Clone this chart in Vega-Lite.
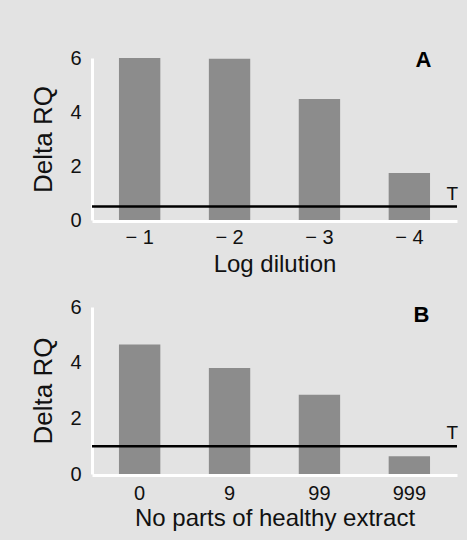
{
  "$schema": "https://vega.github.io/schema/vega-lite/v6.json",
  "background": "#e3e3e3",
  "padding": {"left": 30, "top": 48, "right": 8, "bottom": 10},
  "spacing": 21,
  "config": {
    "view": {"stroke": null},
    "font": "Liberation Sans",
    "axis": {
      "domainColor": "#ffffff",
      "domainWidth": 3,
      "ticks": false,
      "grid": false,
      "labelFont": "Liberation Sans",
      "labelFontSize": 20,
      "labelColor": "#111111",
      "titleFont": "Liberation Sans",
      "titleFontSize": 24,
      "titleFontWeight": "normal",
      "titleColor": "#111111"
    }
  },
  "datasets": {
    "a": [
      {"cat": "− 1", "val": 6.0},
      {"cat": "− 2", "val": 5.97},
      {"cat": "− 3", "val": 4.48},
      {"cat": "− 4", "val": 1.74}
    ],
    "b": [
      {"cat": "0", "val": 4.65},
      {"cat": "9", "val": 3.81},
      {"cat": "99", "val": 2.85},
      {"cat": "999", "val": 0.64}
    ],
    "annA": [
      {"cat": "− 4", "val": 0.5, "label": "T"}
    ],
    "panA": [
      {"cat": "− 4", "val": 6, "label": "A"}
    ],
    "annB": [
      {"cat": "999", "val": 1.0, "label": "T"}
    ],
    "panB": [
      {"cat": "999", "val": 6, "label": "B"}
    ]
  },
  "vconcat": [
    {
      "width": 365,
      "height": 162,
      "layer": [
        {
          "data": {"name": "a"},
          "mark": {"type": "bar", "color": "#8c8c8c"},
          "encoding": {
            "x": {"field": "cat", "type": "nominal", "sort": null,
              "scale": {"paddingInner": 0.54, "paddingOuter": 0.3},
              "axis": {"title": "Log dilution", "labelAngle": 0, "labelPadding": 6, "titlePadding": 5, "offset": 1}},
            "y": {"field": "val", "type": "quantitative",
              "scale": {"domain": [0, 6]},
              "axis": {"title": "Delta RQ", "titleFontSize": 26, "values": [0, 2, 4, 6], "labelPadding": 11, "titlePadding": 13}}
          }
        },
        {
          "data": {"name": "annA"},
          "mark": {"type": "rule", "color": "#000000", "strokeWidth": 2.5},
          "encoding": {"y": {"field": "val", "type": "quantitative"}}
        },
        {
          "data": {"name": "annA"},
          "mark": {"type": "text", "fontSize": 19, "dx": 43, "dy": -3, "baseline": "bottom", "color": "#111111"},
          "encoding": {
            "x": {"field": "cat", "type": "nominal", "sort": null},
            "y": {"field": "val", "type": "quantitative"},
            "text": {"field": "label"}
          }
        },
        {
          "data": {"name": "panA"},
          "mark": {"type": "text", "fontSize": 22, "fontWeight": "bold", "dx": 14, "dy": 2, "baseline": "middle", "color": "#000000"},
          "encoding": {
            "x": {"field": "cat", "type": "nominal", "sort": null},
            "y": {"field": "val", "type": "quantitative"},
            "text": {"field": "label"}
          }
        }
      ]
    },
    {
      "width": 365,
      "height": 167,
      "layer": [
        {
          "data": {"name": "b"},
          "mark": {"type": "bar", "color": "#8c8c8c"},
          "encoding": {
            "x": {"field": "cat", "type": "nominal", "sort": null,
              "scale": {"paddingInner": 0.54, "paddingOuter": 0.3},
              "axis": {"title": "No parts of healthy extract", "labelAngle": 0, "labelPadding": 8, "titlePadding": 3, "offset": 1}},
            "y": {"field": "val", "type": "quantitative",
              "scale": {"domain": [0, 6]},
              "axis": {"title": "Delta RQ", "titleFontSize": 26, "values": [0, 2, 4, 6], "labelPadding": 11, "titlePadding": 13}}
          }
        },
        {
          "data": {"name": "annB"},
          "mark": {"type": "rule", "color": "#000000", "strokeWidth": 2.5},
          "encoding": {"y": {"field": "val", "type": "quantitative"}}
        },
        {
          "data": {"name": "annB"},
          "mark": {"type": "text", "fontSize": 19, "dx": 43, "dy": -3, "baseline": "bottom", "color": "#111111"},
          "encoding": {
            "x": {"field": "cat", "type": "nominal", "sort": null},
            "y": {"field": "val", "type": "quantitative"},
            "text": {"field": "label"}
          }
        },
        {
          "data": {"name": "panB"},
          "mark": {"type": "text", "fontSize": 22, "fontWeight": "bold", "dx": 12, "dy": 8, "baseline": "middle", "color": "#000000"},
          "encoding": {
            "x": {"field": "cat", "type": "nominal", "sort": null},
            "y": {"field": "val", "type": "quantitative"},
            "text": {"field": "label"}
          }
        }
      ]
    }
  ]
}
